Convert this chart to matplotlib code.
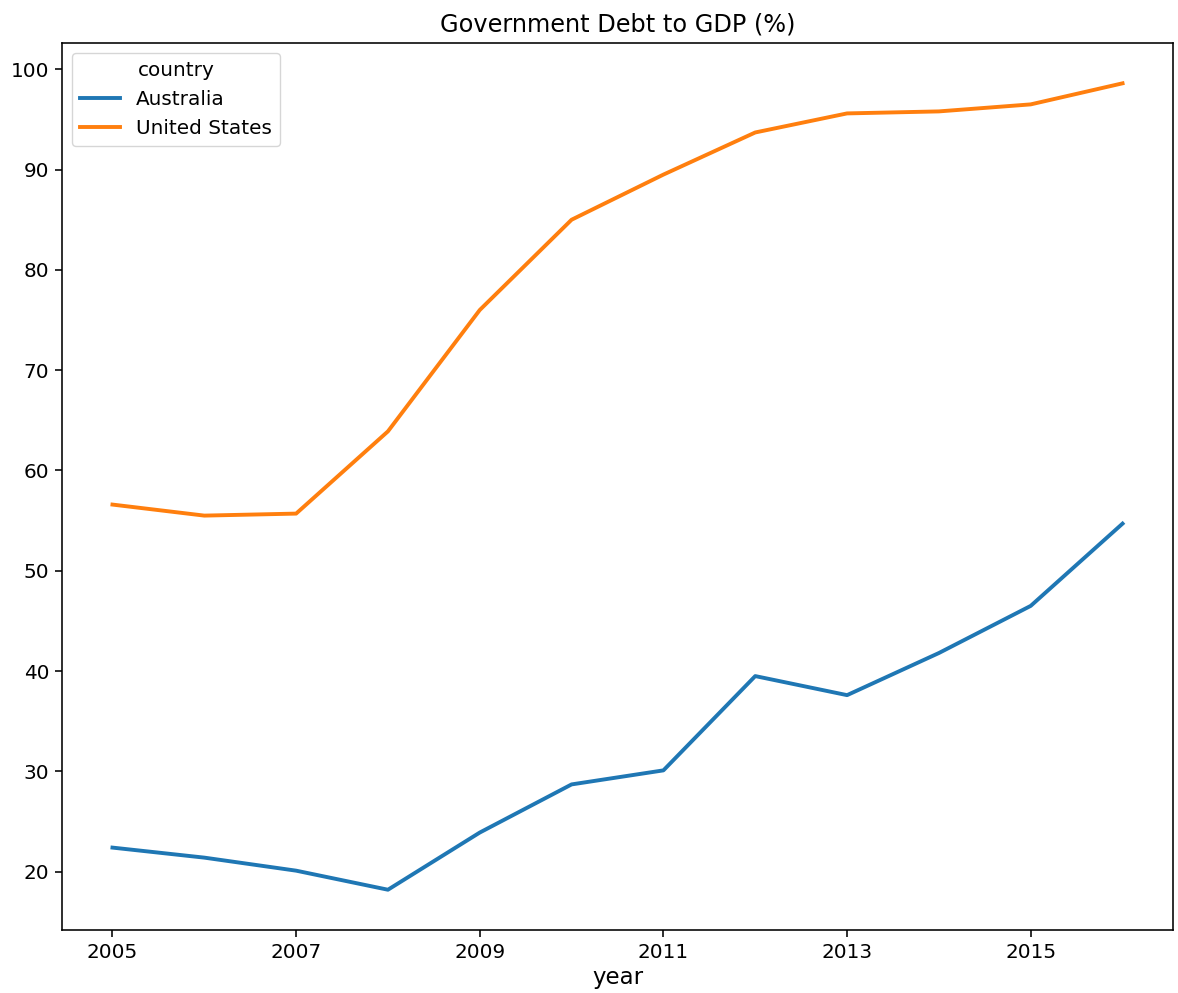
import matplotlib
matplotlib.use("Agg")
import matplotlib.pyplot as plt

# Government debt to GDP (%)
years = [2005, 2006, 2007, 2008, 2009, 2010, 2011, 2012, 2013, 2014, 2015, 2016]
australia = [22.4, 21.4, 20.1, 18.2, 23.9, 28.7, 30.1, 39.5, 37.6, 41.8, 46.5, 54.7]
united_states = [56.6, 55.5, 55.7, 63.9, 76.0, 85.0, 89.5, 93.7, 95.6, 95.8, 96.5, 98.6]
countries = ["Australia", "United States"]
xticks = [2005, 2007, 2009, 2011, 2013, 2015]

fig = plt.figure(figsize=(11.78, 9.93), dpi=100)
ax = fig.add_axes([0.0526, 0.0634, 0.9432, 0.8933])

for name, vals, col in zip(countries, [australia, united_states], ["#1f77b4", "#ff7f0e"]):
    ax.plot(years, vals, color=col, lw=2.8, label=name)

ax.set_xticks(xticks)
ax.tick_params(labelsize=14.4, width=1.15, length=5, pad=4)
for s in ax.spines.values():
    s.set_linewidth(1.15)
ax.set_title("Government Debt to GDP (%)", fontsize=17.3, pad=8.6)
ax.set_xlabel("year", fontsize=16.5, labelpad=3)
ax.legend(title="country", fontsize=14.4, title_fontsize=14.4, loc="upper left")

fig.savefig("out.png", dpi=100)
